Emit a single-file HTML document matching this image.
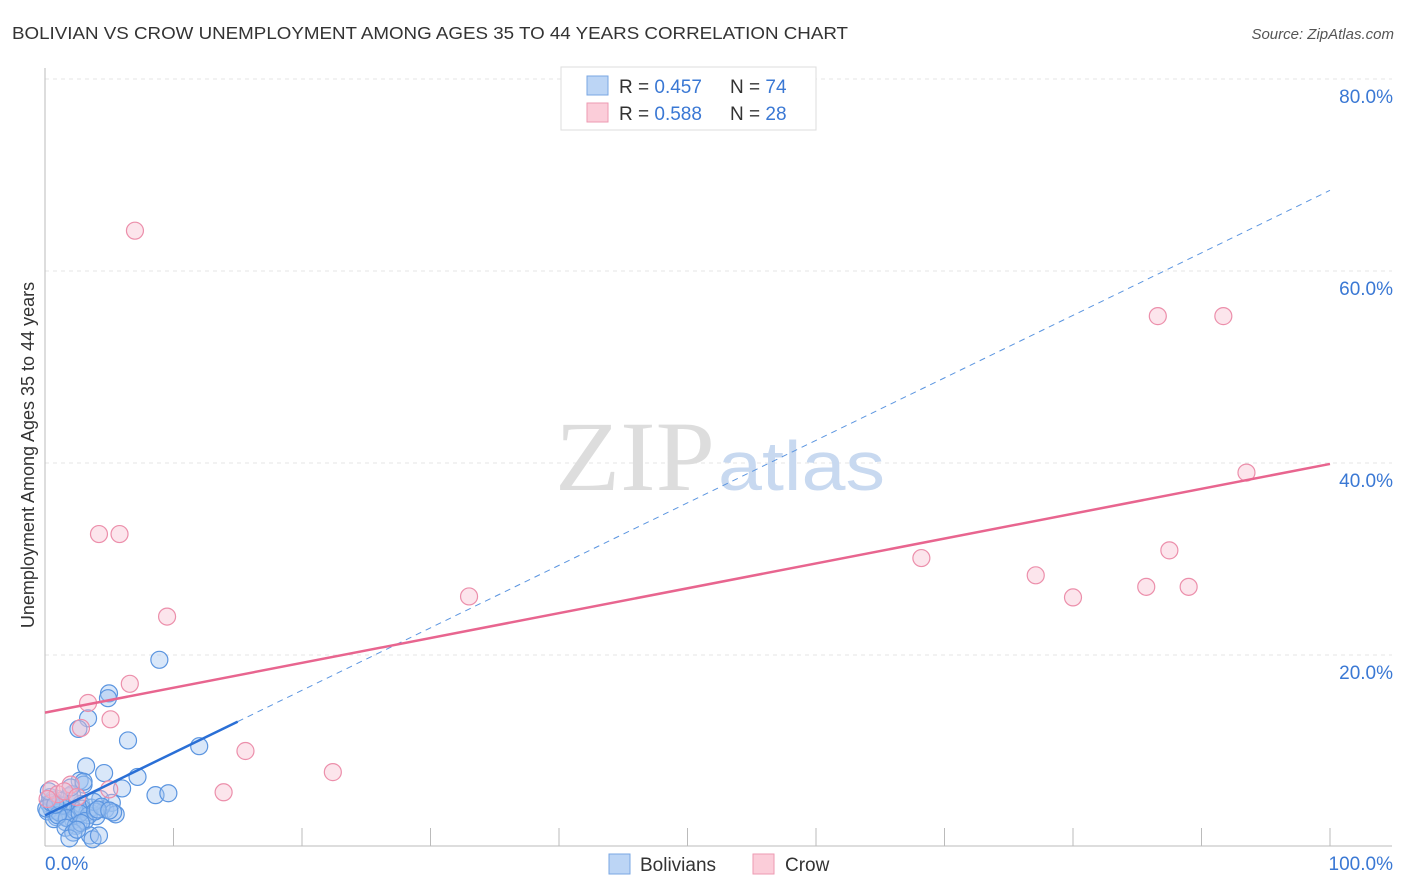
<!DOCTYPE html>
<html><head><meta charset="utf-8"><style>
body{margin:0;background:#fff;font-family:"Liberation Sans",sans-serif}
svg{display:block}
</style></head><body>
<svg width="1406" height="892" xmlns="http://www.w3.org/2000/svg">
<text x="12" y="39" font-size="17.5" fill="#333" textLength="836" lengthAdjust="spacingAndGlyphs">BOLIVIAN VS CROW UNEMPLOYMENT AMONG AGES 35 TO 44 YEARS CORRELATION CHART</text>
<text x="1394" y="39" font-size="15" fill="#555" font-style="italic" text-anchor="end">Source: ZipAtlas.com</text>
<g id="grid"></g>
<g id="axes"></g>
<text x="715" y="490" font-size="100" fill="#ddd" text-anchor="end" font-family="Liberation Serif,serif" textLength="160" lengthAdjust="spacingAndGlyphs">ZIP</text>
<text x="718" y="490" font-size="70" fill="#c8d9f0" textLength="167" lengthAdjust="spacingAndGlyphs">atlas</text>
<g id="pts"></g>
<g id="lines"></g>
<text transform="translate(34,455) rotate(-90)" font-size="18" fill="#333" text-anchor="middle">Unemployment Among Ages 35 to 44 years</text>
<g>
<rect x="561" y="67" width="255" height="63" fill="#fff" stroke="#ddd"/>
<rect x="587" y="76" width="21" height="19" fill="#bcd5f5" stroke="#7aa7e3"/>
<rect x="587" y="103" width="21" height="19" fill="#fbcdd9" stroke="#ee9ab2"/>
<text x="619" y="93" font-size="19" fill="#333">R = <tspan fill="#3a78d4">0.457</tspan></text>
<text x="730" y="93" font-size="19" fill="#333">N = <tspan fill="#3a78d4">74</tspan></text>
<text x="619" y="120" font-size="19" fill="#333">R = <tspan fill="#3a78d4">0.588</tspan></text>
<text x="730" y="120" font-size="19" fill="#333">N = <tspan fill="#3a78d4">28</tspan></text>
</g>
<g>
<rect x="609" y="854" width="21" height="20" fill="#bcd5f5" stroke="#7aa7e3"/>
<text x="640" y="871" font-size="19" fill="#333">Bolivians</text>
<rect x="753" y="854" width="21" height="20" fill="#fbcdd9" stroke="#ee9ab2"/>
<text x="785" y="871" font-size="19" fill="#333">Crow</text>
</g>
</svg>
<script>
const yTicks=[20,40,60,80];
const yTickLabels=["20.0%","40.0%","60.0%","80.0%"];
const xEndLabels=["0.0%","100.0%"];
const bolX=[8.9,4.98,4.9,3.35,2.6,6.46,12.0,3.2,4.6,7.2,2.7,6.0,8.6,9.6,0.3,0.5,0.8,1.0,1.2,1.5,1.8,2.0,2.2,2.5,2.8,3.0,3.3,3.6,4.0,4.3,4.7,5.2,5.5,0.2,0.6,0.9,1.3,1.6,1.9,2.3,2.6,2.9,3.4,3.8,0.4,0.7,1.1,1.4,1.7,2.1,2.4,2.7,3.1,3.9,4.4,5.3,0.1,0.5,1.0,1.6,2.2,2.8,3.5,4.1,1.9,2.5,3.7,4.2,0.3,1.2,2.0,3.0,5.0,0.8];
const bolY=[19.5,16.0,15.5,13.4,12.3,11.1,10.5,8.4,7.7,7.3,6.9,6.1,5.4,5.6,4.5,4.0,3.8,5.0,3.5,4.2,3.0,4.8,2.8,3.3,4.5,6.5,3.6,4.1,3.2,5.0,3.9,4.6,3.4,3.7,4.9,3.1,4.4,2.6,5.3,3.8,2.4,4.0,3.3,4.7,5.2,2.9,3.6,4.3,3.0,5.5,2.2,3.5,2.7,3.7,4.2,3.6,4.0,4.6,3.3,2.0,1.5,2.5,1.2,3.9,0.9,1.8,0.8,1.2,5.8,4.8,6.2,6.8,3.8,4.4];
const crowX=[7.0,4.2,5.8,9.5,6.6,3.35,5.1,2.8,15.6,22.4,13.9,33.0,68.2,77.1,80.0,85.7,89.0,87.5,86.6,91.7,93.5,0.5,2.0,1.0,5.0,0.2,1.5,2.5];
const crowY=[64.2,32.6,32.6,24.0,17.0,15.0,13.3,12.4,10.0,7.8,5.7,26.1,30.1,28.3,26.0,27.1,27.1,30.9,55.3,55.3,39.0,6.0,6.5,5.5,6.0,5.0,5.8,5.2];
const bolLine=[3.3,68.4];
const crowLine=[14.0,39.9];
const NS="http://www.w3.org/2000/svg";
const X=v=>45+v*12.85, Y=v=>847-v*9.6;
function mk(tag,attrs,parent){const e=document.createElementNS(NS,tag);for(const k in attrs)e.setAttribute(k,attrs[k]);parent.appendChild(e);return e;}
const grid=document.getElementById('grid'),axes=document.getElementById('axes');
yTicks.forEach((t,i)=>{
 const l=mk('line',{x1:45,x2:1392,y1:Y(t),y2:Y(t),stroke:'#e6e6e6','stroke-dasharray':'4,4'},grid);
 
 
 const tx=mk('text',{x:1393,y:Y(t)+24,'font-size':19,fill:'#3a78d4','text-anchor':'end'},axes);
 tx.textContent=yTickLabels[i];
 
 
});
mk('line',{x1:45,x2:45,y1:68,y2:846,stroke:'#bbb'},axes);
mk('line',{x1:45,x2:1392,y1:846,y2:846,stroke:'#bbb'},axes);
for(let i=1;i<=10;i++){mk('line',{x1:X(i*10),x2:X(i*10),y1:828,y2:846,stroke:'#bbb'},axes);}
const t0=mk('text',{x:45,y:870,'font-size':19,fill:'#3a78d4'},axes);t0.textContent=xEndLabels[0];


const t1=mk('text',{x:1393,y:870,'font-size':19,fill:'#3a78d4','text-anchor':'end'},axes);t1.textContent=xEndLabels[1];


const pts=document.getElementById('pts');
bolX.forEach((x,i)=>{const c=mk('circle',{cx:X(x),cy:Y(bolY[i]),r:8.5,fill:'rgba(160,196,240,0.4)',stroke:'#5b95e0','stroke-width':1.2},pts);
 
 });
crowX.forEach((x,i)=>{const c=mk('circle',{cx:X(x),cy:Y(crowY[i]),r:8.5,fill:'rgba(248,190,208,0.4)',stroke:'#ec8fab','stroke-width':1.2},pts);
 
 });
const lines=document.getElementById('lines');
const by=x=>bolLine[0]+(bolLine[1]-bolLine[0])*x/100;
const bs=mk('line',{x1:X(0),y1:Y(by(0)),x2:X(15),y2:Y(by(15)),stroke:'#2a6fd6','stroke-width':2.5},lines);


const bd=mk('line',{x1:X(15),y1:Y(by(15)),x2:X(100),y2:Y(by(100)),stroke:'#5b95e0','stroke-width':1,'stroke-dasharray':'6,5'},lines);


const cl=mk('line',{x1:X(0),y1:Y(crowLine[0]),x2:X(100),y2:Y(crowLine[1]),stroke:'#e8658f','stroke-width':2.5},lines);


</script>
</body></html>
